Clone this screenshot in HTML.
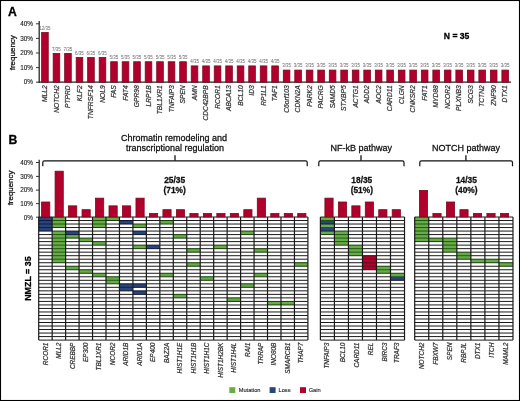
<!DOCTYPE html>
<html><head><meta charset="utf-8"><title>Figure</title>
<style>
html,body{margin:0;padding:0;background:#fff;}
body{width:520px;height:401px;overflow:hidden;}
svg{display:block;font-family:"Liberation Sans", sans-serif;will-change:transform;}
</style></head>
<body>
<svg width="520" height="401" viewBox="0 0 520 401">
<rect x="0" y="0" width="520" height="401" fill="#fff"/>
<text stroke="#000" stroke-width="0.28" x="8" y="15.5" font-size="12.2" font-weight="bold" fill="#000">A</text>
<text stroke="#000" stroke-width="0.28" x="8.4" y="143.9" font-size="12.2" font-weight="bold" fill="#000">B</text>
<line x1="39.2" y1="21" x2="39.2" y2="82.7" stroke="#222" stroke-width="1.25"/>
<line x1="38.6" y1="82.2" x2="511" y2="82.2" stroke="#222" stroke-width="1.2"/>
<line x1="36" y1="82.2" x2="39.2" y2="82.2" stroke="#333" stroke-width="1"/>
<text stroke="#222" stroke-width="0.12" x="33" y="84.4" font-size="6.4" text-anchor="end" fill="#222">0%</text>
<line x1="36" y1="67.6" x2="39.2" y2="67.6" stroke="#333" stroke-width="1"/>
<text stroke="#222" stroke-width="0.12" x="33" y="69.8" font-size="6.4" text-anchor="end" fill="#222">10%</text>
<line x1="36" y1="53" x2="39.2" y2="53" stroke="#333" stroke-width="1"/>
<text stroke="#222" stroke-width="0.12" x="33" y="55.2" font-size="6.4" text-anchor="end" fill="#222">20%</text>
<line x1="36" y1="38.4" x2="39.2" y2="38.4" stroke="#333" stroke-width="1"/>
<text stroke="#222" stroke-width="0.12" x="33" y="40.6" font-size="6.4" text-anchor="end" fill="#222">30%</text>
<line x1="36" y1="23.8" x2="39.2" y2="23.8" stroke="#333" stroke-width="1"/>
<text stroke="#222" stroke-width="0.12" x="33" y="26" font-size="6.4" text-anchor="end" fill="#222">40%</text>
<text stroke="#111" stroke-width="0.28" transform="translate(15.2,52.7) rotate(-90)" font-size="8.0" text-anchor="middle" fill="#111">frequency</text>
<rect x="41.65" y="32.54" width="6.6" height="49.66" fill="#b2002c" stroke="#7a0820" stroke-width="0.8"/>
<text x="44.95" y="29.94" font-size="4.5" text-anchor="middle" fill="#666">12/35</text>
<text stroke="#333" stroke-width="0.22" transform="translate(47.15,85.3) rotate(-90)" font-size="6.7" font-style="italic" text-anchor="end" fill="#333">MLL2</text>
<rect x="53.16" y="53.4" width="6.6" height="28.8" fill="#b2002c" stroke="#7a0820" stroke-width="0.8"/>
<text x="56.46" y="50.8" font-size="4.5" text-anchor="middle" fill="#666">7/35</text>
<text stroke="#333" stroke-width="0.22" transform="translate(58.66,85.3) rotate(-90)" font-size="6.7" font-style="italic" text-anchor="end" fill="#333">NOTCH2</text>
<rect x="64.66" y="53.4" width="6.6" height="28.8" fill="#b2002c" stroke="#7a0820" stroke-width="0.8"/>
<text x="67.96" y="50.8" font-size="4.5" text-anchor="middle" fill="#666">7/35</text>
<text stroke="#333" stroke-width="0.22" transform="translate(70.16,85.3) rotate(-90)" font-size="6.7" font-style="italic" text-anchor="end" fill="#333">PTPRD</text>
<rect x="76.17" y="57.57" width="6.6" height="24.63" fill="#b2002c" stroke="#7a0820" stroke-width="0.8"/>
<text x="79.47" y="54.97" font-size="4.5" text-anchor="middle" fill="#666">6/35</text>
<text stroke="#333" stroke-width="0.22" transform="translate(81.67,85.3) rotate(-90)" font-size="6.7" font-style="italic" text-anchor="end" fill="#333">KLF2</text>
<rect x="87.67" y="57.57" width="6.6" height="24.63" fill="#b2002c" stroke="#7a0820" stroke-width="0.8"/>
<text x="90.97" y="54.97" font-size="4.5" text-anchor="middle" fill="#666">6/35</text>
<text stroke="#333" stroke-width="0.22" transform="translate(93.17,85.3) rotate(-90)" font-size="6.7" font-style="italic" text-anchor="end" fill="#333">TNFRSF14</text>
<rect x="99.18" y="57.57" width="6.6" height="24.63" fill="#b2002c" stroke="#7a0820" stroke-width="0.8"/>
<text x="102.48" y="54.97" font-size="4.5" text-anchor="middle" fill="#666">6/35</text>
<text stroke="#333" stroke-width="0.22" transform="translate(104.68,85.3) rotate(-90)" font-size="6.7" font-style="italic" text-anchor="end" fill="#333">NOL9</text>
<rect x="110.69" y="61.74" width="6.6" height="20.46" fill="#b2002c" stroke="#7a0820" stroke-width="0.8"/>
<text x="113.99" y="59.14" font-size="4.5" text-anchor="middle" fill="#666">5/35</text>
<text stroke="#333" stroke-width="0.22" transform="translate(116.19,85.3) rotate(-90)" font-size="6.7" font-style="italic" text-anchor="end" fill="#333">FAS</text>
<rect x="122.19" y="61.74" width="6.6" height="20.46" fill="#b2002c" stroke="#7a0820" stroke-width="0.8"/>
<text x="125.49" y="59.14" font-size="4.5" text-anchor="middle" fill="#666">5/35</text>
<text stroke="#333" stroke-width="0.22" transform="translate(127.69,85.3) rotate(-90)" font-size="6.7" font-style="italic" text-anchor="end" fill="#333">FAT4</text>
<rect x="133.7" y="61.74" width="6.6" height="20.46" fill="#b2002c" stroke="#7a0820" stroke-width="0.8"/>
<text x="137" y="59.14" font-size="4.5" text-anchor="middle" fill="#666">5/35</text>
<text stroke="#333" stroke-width="0.22" transform="translate(139.2,85.3) rotate(-90)" font-size="6.7" font-style="italic" text-anchor="end" fill="#333">GPR98</text>
<rect x="145.2" y="61.74" width="6.6" height="20.46" fill="#b2002c" stroke="#7a0820" stroke-width="0.8"/>
<text x="148.5" y="59.14" font-size="4.5" text-anchor="middle" fill="#666">5/35</text>
<text stroke="#333" stroke-width="0.22" transform="translate(150.7,85.3) rotate(-90)" font-size="6.7" font-style="italic" text-anchor="end" fill="#333">LRP1B</text>
<rect x="156.71" y="61.74" width="6.6" height="20.46" fill="#b2002c" stroke="#7a0820" stroke-width="0.8"/>
<text x="160.01" y="59.14" font-size="4.5" text-anchor="middle" fill="#666">5/35</text>
<text stroke="#333" stroke-width="0.22" transform="translate(162.21,85.3) rotate(-90)" font-size="6.7" font-style="italic" text-anchor="end" fill="#333">TBL1XR1</text>
<rect x="168.22" y="61.74" width="6.6" height="20.46" fill="#b2002c" stroke="#7a0820" stroke-width="0.8"/>
<text x="171.52" y="59.14" font-size="4.5" text-anchor="middle" fill="#666">5/35</text>
<text stroke="#333" stroke-width="0.22" transform="translate(173.72,85.3) rotate(-90)" font-size="6.7" font-style="italic" text-anchor="end" fill="#333">TNFAIP3</text>
<rect x="179.72" y="61.74" width="6.6" height="20.46" fill="#b2002c" stroke="#7a0820" stroke-width="0.8"/>
<text x="183.02" y="59.14" font-size="4.5" text-anchor="middle" fill="#666">5/35</text>
<text stroke="#333" stroke-width="0.22" transform="translate(185.22,85.3) rotate(-90)" font-size="6.7" font-style="italic" text-anchor="end" fill="#333">SPEN</text>
<rect x="191.23" y="65.91" width="6.6" height="16.29" fill="#b2002c" stroke="#7a0820" stroke-width="0.8"/>
<text x="194.53" y="63.31" font-size="4.5" text-anchor="middle" fill="#666">4/35</text>
<text stroke="#333" stroke-width="0.22" transform="translate(196.73,85.3) rotate(-90)" font-size="6.7" font-style="italic" text-anchor="end" fill="#333">AMN</text>
<rect x="202.73" y="65.91" width="6.6" height="16.29" fill="#b2002c" stroke="#7a0820" stroke-width="0.8"/>
<text x="206.03" y="63.31" font-size="4.5" text-anchor="middle" fill="#666">4/35</text>
<text stroke="#333" stroke-width="0.22" transform="translate(208.23,85.3) rotate(-90)" font-size="6.7" font-style="italic" text-anchor="end" fill="#333">CDC42BPB</text>
<rect x="214.24" y="65.91" width="6.6" height="16.29" fill="#b2002c" stroke="#7a0820" stroke-width="0.8"/>
<text x="217.54" y="63.31" font-size="4.5" text-anchor="middle" fill="#666">4/35</text>
<text stroke="#333" stroke-width="0.22" transform="translate(219.74,85.3) rotate(-90)" font-size="6.7" font-style="italic" text-anchor="end" fill="#333">RCOR1</text>
<rect x="225.75" y="65.91" width="6.6" height="16.29" fill="#b2002c" stroke="#7a0820" stroke-width="0.8"/>
<text x="229.05" y="63.31" font-size="4.5" text-anchor="middle" fill="#666">4/35</text>
<text stroke="#333" stroke-width="0.22" transform="translate(231.25,85.3) rotate(-90)" font-size="6.7" font-style="italic" text-anchor="end" fill="#333">ABCA13</text>
<rect x="237.25" y="65.91" width="6.6" height="16.29" fill="#b2002c" stroke="#7a0820" stroke-width="0.8"/>
<text x="240.55" y="63.31" font-size="4.5" text-anchor="middle" fill="#666">4/35</text>
<text stroke="#333" stroke-width="0.22" transform="translate(242.75,85.3) rotate(-90)" font-size="6.7" font-style="italic" text-anchor="end" fill="#333">BCL10</text>
<rect x="248.76" y="65.91" width="6.6" height="16.29" fill="#b2002c" stroke="#7a0820" stroke-width="0.8"/>
<text x="252.06" y="63.31" font-size="4.5" text-anchor="middle" fill="#666">4/35</text>
<text stroke="#333" stroke-width="0.22" transform="translate(254.26,85.3) rotate(-90)" font-size="6.7" font-style="italic" text-anchor="end" fill="#333">ID3</text>
<rect x="260.26" y="65.91" width="6.6" height="16.29" fill="#b2002c" stroke="#7a0820" stroke-width="0.8"/>
<text x="263.56" y="63.31" font-size="4.5" text-anchor="middle" fill="#666">4/35</text>
<text stroke="#333" stroke-width="0.22" transform="translate(265.76,85.3) rotate(-90)" font-size="6.7" font-style="italic" text-anchor="end" fill="#333">RP1L1</text>
<rect x="271.77" y="65.91" width="6.6" height="16.29" fill="#b2002c" stroke="#7a0820" stroke-width="0.8"/>
<text x="275.07" y="63.31" font-size="4.5" text-anchor="middle" fill="#666">4/35</text>
<text stroke="#333" stroke-width="0.22" transform="translate(277.27,85.3) rotate(-90)" font-size="6.7" font-style="italic" text-anchor="end" fill="#333">TAF1</text>
<rect x="283.28" y="70.09" width="6.6" height="12.11" fill="#b2002c" stroke="#7a0820" stroke-width="0.8"/>
<text x="286.58" y="67.49" font-size="4.5" text-anchor="middle" fill="#666">3/35</text>
<text stroke="#333" stroke-width="0.22" transform="translate(288.78,85.3) rotate(-90)" font-size="6.7" font-style="italic" text-anchor="end" fill="#333">C6orf103</text>
<rect x="294.78" y="70.09" width="6.6" height="12.11" fill="#b2002c" stroke="#7a0820" stroke-width="0.8"/>
<text x="298.08" y="67.49" font-size="4.5" text-anchor="middle" fill="#666">3/35</text>
<text stroke="#333" stroke-width="0.22" transform="translate(300.28,85.3) rotate(-90)" font-size="6.7" font-style="italic" text-anchor="end" fill="#333">CDKN2A</text>
<rect x="306.29" y="70.09" width="6.6" height="12.11" fill="#b2002c" stroke="#7a0820" stroke-width="0.8"/>
<text x="309.59" y="67.49" font-size="4.5" text-anchor="middle" fill="#666">3/35</text>
<text stroke="#333" stroke-width="0.22" transform="translate(311.79,85.3) rotate(-90)" font-size="6.7" font-style="italic" text-anchor="end" fill="#333">PARK2</text>
<rect x="317.79" y="70.09" width="6.6" height="12.11" fill="#b2002c" stroke="#7a0820" stroke-width="0.8"/>
<text x="321.09" y="67.49" font-size="4.5" text-anchor="middle" fill="#666">3/35</text>
<text stroke="#333" stroke-width="0.22" transform="translate(323.29,85.3) rotate(-90)" font-size="6.7" font-style="italic" text-anchor="end" fill="#333">PACRG</text>
<rect x="329.3" y="70.09" width="6.6" height="12.11" fill="#b2002c" stroke="#7a0820" stroke-width="0.8"/>
<text x="332.6" y="67.49" font-size="4.5" text-anchor="middle" fill="#666">3/35</text>
<text stroke="#333" stroke-width="0.22" transform="translate(334.8,85.3) rotate(-90)" font-size="6.7" font-style="italic" text-anchor="end" fill="#333">SAMD5</text>
<rect x="340.81" y="70.09" width="6.6" height="12.11" fill="#b2002c" stroke="#7a0820" stroke-width="0.8"/>
<text x="344.11" y="67.49" font-size="4.5" text-anchor="middle" fill="#666">3/35</text>
<text stroke="#333" stroke-width="0.22" transform="translate(346.31,85.3) rotate(-90)" font-size="6.7" font-style="italic" text-anchor="end" fill="#333">STXBP5</text>
<rect x="352.31" y="70.09" width="6.6" height="12.11" fill="#b2002c" stroke="#7a0820" stroke-width="0.8"/>
<text x="355.61" y="67.49" font-size="4.5" text-anchor="middle" fill="#666">3/35</text>
<text stroke="#333" stroke-width="0.22" transform="translate(357.81,85.3) rotate(-90)" font-size="6.7" font-style="italic" text-anchor="end" fill="#333">ACTG1</text>
<rect x="363.82" y="70.09" width="6.6" height="12.11" fill="#b2002c" stroke="#7a0820" stroke-width="0.8"/>
<text x="367.12" y="67.49" font-size="4.5" text-anchor="middle" fill="#666">3/35</text>
<text stroke="#333" stroke-width="0.22" transform="translate(369.32,85.3) rotate(-90)" font-size="6.7" font-style="italic" text-anchor="end" fill="#333">ADD2</text>
<rect x="375.32" y="70.09" width="6.6" height="12.11" fill="#b2002c" stroke="#7a0820" stroke-width="0.8"/>
<text x="378.62" y="67.49" font-size="4.5" text-anchor="middle" fill="#666">3/35</text>
<text stroke="#333" stroke-width="0.22" transform="translate(380.82,85.3) rotate(-90)" font-size="6.7" font-style="italic" text-anchor="end" fill="#333">AOC2</text>
<rect x="386.83" y="70.09" width="6.6" height="12.11" fill="#b2002c" stroke="#7a0820" stroke-width="0.8"/>
<text x="390.13" y="67.49" font-size="4.5" text-anchor="middle" fill="#666">3/35</text>
<text stroke="#333" stroke-width="0.22" transform="translate(392.33,85.3) rotate(-90)" font-size="6.7" font-style="italic" text-anchor="end" fill="#333">CARD11</text>
<rect x="398.34" y="70.09" width="6.6" height="12.11" fill="#b2002c" stroke="#7a0820" stroke-width="0.8"/>
<text x="401.64" y="67.49" font-size="4.5" text-anchor="middle" fill="#666">3/35</text>
<text stroke="#333" stroke-width="0.22" transform="translate(403.84,85.3) rotate(-90)" font-size="6.7" font-style="italic" text-anchor="end" fill="#333">CLGN</text>
<rect x="409.84" y="70.09" width="6.6" height="12.11" fill="#b2002c" stroke="#7a0820" stroke-width="0.8"/>
<text x="413.14" y="67.49" font-size="4.5" text-anchor="middle" fill="#666">3/35</text>
<text stroke="#333" stroke-width="0.22" transform="translate(415.34,85.3) rotate(-90)" font-size="6.7" font-style="italic" text-anchor="end" fill="#333">CNKSR2</text>
<rect x="421.35" y="70.09" width="6.6" height="12.11" fill="#b2002c" stroke="#7a0820" stroke-width="0.8"/>
<text x="424.65" y="67.49" font-size="4.5" text-anchor="middle" fill="#666">3/35</text>
<text stroke="#333" stroke-width="0.22" transform="translate(426.85,85.3) rotate(-90)" font-size="6.7" font-style="italic" text-anchor="end" fill="#333">FAT1</text>
<rect x="432.85" y="70.09" width="6.6" height="12.11" fill="#b2002c" stroke="#7a0820" stroke-width="0.8"/>
<text x="436.15" y="67.49" font-size="4.5" text-anchor="middle" fill="#666">3/35</text>
<text stroke="#333" stroke-width="0.22" transform="translate(438.35,85.3) rotate(-90)" font-size="6.7" font-style="italic" text-anchor="end" fill="#333">MYD88</text>
<rect x="444.36" y="70.09" width="6.6" height="12.11" fill="#b2002c" stroke="#7a0820" stroke-width="0.8"/>
<text x="447.66" y="67.49" font-size="4.5" text-anchor="middle" fill="#666">3/35</text>
<text stroke="#333" stroke-width="0.22" transform="translate(449.86,85.3) rotate(-90)" font-size="6.7" font-style="italic" text-anchor="end" fill="#333">NCOR2</text>
<rect x="455.87" y="70.09" width="6.6" height="12.11" fill="#b2002c" stroke="#7a0820" stroke-width="0.8"/>
<text x="459.17" y="67.49" font-size="4.5" text-anchor="middle" fill="#666">3/35</text>
<text stroke="#333" stroke-width="0.22" transform="translate(461.37,85.3) rotate(-90)" font-size="6.7" font-style="italic" text-anchor="end" fill="#333">PLXNB3</text>
<rect x="467.37" y="70.09" width="6.6" height="12.11" fill="#b2002c" stroke="#7a0820" stroke-width="0.8"/>
<text x="470.67" y="67.49" font-size="4.5" text-anchor="middle" fill="#666">3/35</text>
<text stroke="#333" stroke-width="0.22" transform="translate(472.87,85.3) rotate(-90)" font-size="6.7" font-style="italic" text-anchor="end" fill="#333">SCG3</text>
<rect x="478.88" y="70.09" width="6.6" height="12.11" fill="#b2002c" stroke="#7a0820" stroke-width="0.8"/>
<text x="482.18" y="67.49" font-size="4.5" text-anchor="middle" fill="#666">3/35</text>
<text stroke="#333" stroke-width="0.22" transform="translate(484.38,85.3) rotate(-90)" font-size="6.7" font-style="italic" text-anchor="end" fill="#333">TCTN2</text>
<rect x="490.38" y="70.09" width="6.6" height="12.11" fill="#b2002c" stroke="#7a0820" stroke-width="0.8"/>
<text x="493.68" y="67.49" font-size="4.5" text-anchor="middle" fill="#666">3/35</text>
<text stroke="#333" stroke-width="0.22" transform="translate(495.88,85.3) rotate(-90)" font-size="6.7" font-style="italic" text-anchor="end" fill="#333">ZNF90</text>
<rect x="501.89" y="70.09" width="6.6" height="12.11" fill="#b2002c" stroke="#7a0820" stroke-width="0.8"/>
<text x="505.19" y="67.49" font-size="4.5" text-anchor="middle" fill="#666">3/35</text>
<text stroke="#333" stroke-width="0.22" transform="translate(507.39,85.3) rotate(-90)" font-size="6.7" font-style="italic" text-anchor="end" fill="#333">DTX1</text>
<text stroke="#000" stroke-width="0.28" x="443.8" y="38.5" font-size="8.6" font-weight="bold" fill="#000">N = 35</text>
<line x1="39.2" y1="159.8" x2="39.2" y2="217.0" stroke="#222" stroke-width="1.25"/>
<line x1="36" y1="217.2" x2="39.2" y2="217.2" stroke="#333" stroke-width="1"/>
<text stroke="#222" stroke-width="0.12" x="33" y="219.5" font-size="6.4" text-anchor="end" fill="#222">0%</text>
<line x1="36" y1="203.6" x2="39.2" y2="203.6" stroke="#333" stroke-width="1"/>
<text stroke="#222" stroke-width="0.12" x="33" y="205.9" font-size="6.4" text-anchor="end" fill="#222">10%</text>
<line x1="36" y1="190.1" x2="39.2" y2="190.1" stroke="#333" stroke-width="1"/>
<text stroke="#222" stroke-width="0.12" x="33" y="192.4" font-size="6.4" text-anchor="end" fill="#222">20%</text>
<line x1="36" y1="176.4" x2="39.2" y2="176.4" stroke="#333" stroke-width="1"/>
<text stroke="#222" stroke-width="0.12" x="33" y="178.7" font-size="6.4" text-anchor="end" fill="#222">30%</text>
<line x1="36" y1="162.5" x2="39.2" y2="162.5" stroke="#333" stroke-width="1"/>
<text stroke="#222" stroke-width="0.12" x="33" y="164.8" font-size="6.4" text-anchor="end" fill="#222">40%</text>
<text stroke="#111" stroke-width="0.28" transform="translate(13.1,188) rotate(-90)" font-size="7.9" text-anchor="middle" fill="#111">frequency</text>
<text stroke="#000" stroke-width="0.28" transform="translate(31.2,278.6) rotate(-90)" font-size="8.9" font-weight="bold" text-anchor="middle" fill="#000">NMZL = 35</text>
<rect x="38.7" y="217" width="269.2" height="123.1" fill="#fff"/>
<rect x="38.7" y="217" width="13.46" height="3.52" fill="#2a457c"/>
<rect x="38.7" y="220.52" width="13.46" height="3.52" fill="#2a457c"/>
<rect x="38.7" y="224.03" width="13.46" height="3.52" fill="#2a457c"/>
<rect x="38.7" y="227.55" width="13.46" height="3.52" fill="#2a457c"/>
<rect x="52.16" y="217" width="13.46" height="3.52" fill="#68ac47"/>
<rect x="52.16" y="220.52" width="13.46" height="3.52" fill="#68ac47"/>
<rect x="52.16" y="224.03" width="13.46" height="3.52" fill="#68ac47"/>
<rect x="52.16" y="231.07" width="13.46" height="3.52" fill="#68ac47"/>
<rect x="52.16" y="234.59" width="13.46" height="3.52" fill="#68ac47"/>
<rect x="52.16" y="238.1" width="13.46" height="3.52" fill="#68ac47"/>
<rect x="52.16" y="241.62" width="13.46" height="3.52" fill="#68ac47"/>
<rect x="52.16" y="245.14" width="13.46" height="3.52" fill="#68ac47"/>
<rect x="52.16" y="248.65" width="13.46" height="3.52" fill="#68ac47"/>
<rect x="52.16" y="252.17" width="13.46" height="3.52" fill="#68ac47"/>
<rect x="52.16" y="255.69" width="13.46" height="3.52" fill="#68ac47"/>
<rect x="52.16" y="259.2" width="13.46" height="3.52" fill="#68ac47"/>
<rect x="65.62" y="231.07" width="13.46" height="3.52" fill="#2a457c"/>
<rect x="65.62" y="234.59" width="13.46" height="3.52" fill="#68ac47"/>
<rect x="65.62" y="266.24" width="13.46" height="3.52" fill="#68ac47"/>
<rect x="79.08" y="238.1" width="13.46" height="3.52" fill="#68ac47"/>
<rect x="79.08" y="269.75" width="13.46" height="3.52" fill="#68ac47"/>
<rect x="92.54" y="217" width="13.46" height="3.52" fill="#68ac47"/>
<rect x="92.54" y="220.52" width="13.46" height="3.52" fill="#68ac47"/>
<rect x="92.54" y="224.03" width="13.46" height="3.52" fill="#68ac47"/>
<rect x="92.54" y="241.62" width="13.46" height="3.52" fill="#68ac47"/>
<rect x="92.54" y="273.27" width="13.46" height="3.52" fill="#68ac47"/>
<rect x="106" y="217" width="13.46" height="3.52" fill="#68ac47"/>
<rect x="106" y="276.79" width="13.46" height="3.52" fill="#68ac47"/>
<rect x="106" y="280.31" width="13.46" height="3.52" fill="#68ac47"/>
<rect x="119.46" y="220.52" width="13.46" height="3.52" fill="#2a457c"/>
<rect x="119.46" y="283.82" width="13.46" height="3.52" fill="#2a457c"/>
<rect x="119.46" y="287.34" width="13.46" height="3.52" fill="#2a457c"/>
<rect x="132.92" y="224.03" width="13.46" height="3.52" fill="#68ac47"/>
<rect x="132.92" y="231.07" width="13.46" height="3.52" fill="#2a457c"/>
<rect x="132.92" y="245.14" width="13.46" height="3.52" fill="#68ac47"/>
<rect x="132.92" y="283.82" width="13.46" height="3.52" fill="#2a457c"/>
<rect x="132.92" y="290.86" width="13.46" height="3.52" fill="#2a457c"/>
<rect x="146.38" y="245.14" width="13.46" height="3.52" fill="#2a457c"/>
<rect x="159.84" y="220.52" width="13.46" height="3.52" fill="#68ac47"/>
<rect x="159.84" y="273.27" width="13.46" height="3.52" fill="#68ac47"/>
<rect x="173.3" y="234.59" width="13.46" height="3.52" fill="#68ac47"/>
<rect x="173.3" y="294.37" width="13.46" height="3.52" fill="#68ac47"/>
<rect x="186.76" y="248.65" width="13.46" height="3.52" fill="#68ac47"/>
<rect x="186.76" y="262.72" width="13.46" height="3.52" fill="#68ac47"/>
<rect x="200.22" y="276.79" width="13.46" height="3.52" fill="#68ac47"/>
<rect x="213.68" y="245.14" width="13.46" height="3.52" fill="#68ac47"/>
<rect x="227.14" y="297.89" width="13.46" height="3.52" fill="#68ac47"/>
<rect x="240.6" y="231.07" width="13.46" height="3.52" fill="#68ac47"/>
<rect x="240.6" y="283.82" width="13.46" height="3.52" fill="#68ac47"/>
<rect x="254.06" y="248.65" width="13.46" height="3.52" fill="#68ac47"/>
<rect x="254.06" y="273.27" width="13.46" height="3.52" fill="#68ac47"/>
<rect x="267.52" y="301.41" width="13.46" height="3.52" fill="#68ac47"/>
<rect x="280.98" y="301.41" width="13.46" height="3.52" fill="#68ac47"/>
<rect x="294.44" y="262.72" width="13.46" height="3.52" fill="#68ac47"/>
<line x1="38.7" y1="217" x2="52.16" y2="217" stroke="#0b1430" stroke-width="1.0"/>
<line x1="52.16" y1="217" x2="65.62" y2="217" stroke="#133a08" stroke-width="1.0"/>
<line x1="65.62" y1="217" x2="92.54" y2="217" stroke="#1a1a1a" stroke-width="1.0"/>
<line x1="92.54" y1="217" x2="119.46" y2="217" stroke="#133a08" stroke-width="1.0"/>
<line x1="119.46" y1="217" x2="307.9" y2="217" stroke="#1a1a1a" stroke-width="1.0"/>
<line x1="38.7" y1="220.52" x2="52.16" y2="220.52" stroke="#0f1b3e" stroke-width="1.0"/>
<line x1="52.16" y1="220.52" x2="65.62" y2="220.52" stroke="#1c560c" stroke-width="1.0"/>
<line x1="65.62" y1="220.52" x2="92.54" y2="220.52" stroke="#1a1a1a" stroke-width="1.0"/>
<line x1="92.54" y1="220.52" x2="106" y2="220.52" stroke="#1c560c" stroke-width="1.0"/>
<line x1="106" y1="220.52" x2="119.46" y2="220.52" stroke="#133a08" stroke-width="1.0"/>
<line x1="119.46" y1="220.52" x2="132.92" y2="220.52" stroke="#0b1430" stroke-width="1.0"/>
<line x1="132.92" y1="220.52" x2="159.84" y2="220.52" stroke="#1a1a1a" stroke-width="1.0"/>
<line x1="159.84" y1="220.52" x2="173.3" y2="220.52" stroke="#133a08" stroke-width="1.0"/>
<line x1="173.3" y1="220.52" x2="307.9" y2="220.52" stroke="#1a1a1a" stroke-width="1.0"/>
<line x1="38.7" y1="224.03" x2="52.16" y2="224.03" stroke="#0f1b3e" stroke-width="1.0"/>
<line x1="52.16" y1="224.03" x2="65.62" y2="224.03" stroke="#1c560c" stroke-width="1.0"/>
<line x1="65.62" y1="224.03" x2="92.54" y2="224.03" stroke="#1a1a1a" stroke-width="1.0"/>
<line x1="92.54" y1="224.03" x2="106" y2="224.03" stroke="#1c560c" stroke-width="1.0"/>
<line x1="106" y1="224.03" x2="119.46" y2="224.03" stroke="#1a1a1a" stroke-width="1.0"/>
<line x1="119.46" y1="224.03" x2="132.92" y2="224.03" stroke="#0b1430" stroke-width="1.0"/>
<line x1="132.92" y1="224.03" x2="146.38" y2="224.03" stroke="#133a08" stroke-width="1.0"/>
<line x1="146.38" y1="224.03" x2="159.84" y2="224.03" stroke="#1a1a1a" stroke-width="1.0"/>
<line x1="159.84" y1="224.03" x2="173.3" y2="224.03" stroke="#133a08" stroke-width="1.0"/>
<line x1="173.3" y1="224.03" x2="307.9" y2="224.03" stroke="#1a1a1a" stroke-width="1.0"/>
<line x1="38.7" y1="227.55" x2="52.16" y2="227.55" stroke="#0f1b3e" stroke-width="1.0"/>
<line x1="52.16" y1="227.55" x2="65.62" y2="227.55" stroke="#133a08" stroke-width="1.0"/>
<line x1="65.62" y1="227.55" x2="92.54" y2="227.55" stroke="#1a1a1a" stroke-width="1.0"/>
<line x1="92.54" y1="227.55" x2="106" y2="227.55" stroke="#133a08" stroke-width="1.0"/>
<line x1="106" y1="227.55" x2="132.92" y2="227.55" stroke="#1a1a1a" stroke-width="1.0"/>
<line x1="132.92" y1="227.55" x2="146.38" y2="227.55" stroke="#133a08" stroke-width="1.0"/>
<line x1="146.38" y1="227.55" x2="307.9" y2="227.55" stroke="#1a1a1a" stroke-width="1.0"/>
<line x1="38.7" y1="231.07" x2="52.16" y2="231.07" stroke="#0b1430" stroke-width="1.0"/>
<line x1="52.16" y1="231.07" x2="65.62" y2="231.07" stroke="#133a08" stroke-width="1.0"/>
<line x1="65.62" y1="231.07" x2="79.08" y2="231.07" stroke="#0b1430" stroke-width="1.0"/>
<line x1="79.08" y1="231.07" x2="132.92" y2="231.07" stroke="#1a1a1a" stroke-width="1.0"/>
<line x1="132.92" y1="231.07" x2="146.38" y2="231.07" stroke="#0b1430" stroke-width="1.0"/>
<line x1="146.38" y1="231.07" x2="240.6" y2="231.07" stroke="#1a1a1a" stroke-width="1.0"/>
<line x1="240.6" y1="231.07" x2="254.06" y2="231.07" stroke="#133a08" stroke-width="1.0"/>
<line x1="254.06" y1="231.07" x2="307.9" y2="231.07" stroke="#1a1a1a" stroke-width="1.0"/>
<line x1="38.7" y1="234.59" x2="52.16" y2="234.59" stroke="#1a1a1a" stroke-width="1.0"/>
<line x1="52.16" y1="234.59" x2="65.62" y2="234.59" stroke="#1c560c" stroke-width="1.0"/>
<line x1="65.62" y1="234.59" x2="79.08" y2="234.59" stroke="#0f1b3e" stroke-width="1.0"/>
<line x1="79.08" y1="234.59" x2="132.92" y2="234.59" stroke="#1a1a1a" stroke-width="1.0"/>
<line x1="132.92" y1="234.59" x2="146.38" y2="234.59" stroke="#0b1430" stroke-width="1.0"/>
<line x1="146.38" y1="234.59" x2="173.3" y2="234.59" stroke="#1a1a1a" stroke-width="1.0"/>
<line x1="173.3" y1="234.59" x2="186.76" y2="234.59" stroke="#133a08" stroke-width="1.0"/>
<line x1="186.76" y1="234.59" x2="240.6" y2="234.59" stroke="#1a1a1a" stroke-width="1.0"/>
<line x1="240.6" y1="234.59" x2="254.06" y2="234.59" stroke="#133a08" stroke-width="1.0"/>
<line x1="254.06" y1="234.59" x2="307.9" y2="234.59" stroke="#1a1a1a" stroke-width="1.0"/>
<line x1="38.7" y1="238.1" x2="52.16" y2="238.1" stroke="#1a1a1a" stroke-width="1.0"/>
<line x1="52.16" y1="238.1" x2="65.62" y2="238.1" stroke="#1c560c" stroke-width="1.0"/>
<line x1="65.62" y1="238.1" x2="92.54" y2="238.1" stroke="#133a08" stroke-width="1.0"/>
<line x1="92.54" y1="238.1" x2="173.3" y2="238.1" stroke="#1a1a1a" stroke-width="1.0"/>
<line x1="173.3" y1="238.1" x2="186.76" y2="238.1" stroke="#133a08" stroke-width="1.0"/>
<line x1="186.76" y1="238.1" x2="307.9" y2="238.1" stroke="#1a1a1a" stroke-width="1.0"/>
<line x1="38.7" y1="241.62" x2="52.16" y2="241.62" stroke="#1a1a1a" stroke-width="1.0"/>
<line x1="52.16" y1="241.62" x2="65.62" y2="241.62" stroke="#1c560c" stroke-width="1.0"/>
<line x1="65.62" y1="241.62" x2="79.08" y2="241.62" stroke="#1a1a1a" stroke-width="1.0"/>
<line x1="79.08" y1="241.62" x2="106" y2="241.62" stroke="#133a08" stroke-width="1.0"/>
<line x1="106" y1="241.62" x2="307.9" y2="241.62" stroke="#1a1a1a" stroke-width="1.0"/>
<line x1="38.7" y1="245.14" x2="52.16" y2="245.14" stroke="#1a1a1a" stroke-width="1.0"/>
<line x1="52.16" y1="245.14" x2="65.62" y2="245.14" stroke="#1c560c" stroke-width="1.0"/>
<line x1="65.62" y1="245.14" x2="92.54" y2="245.14" stroke="#1a1a1a" stroke-width="1.0"/>
<line x1="92.54" y1="245.14" x2="106" y2="245.14" stroke="#133a08" stroke-width="1.0"/>
<line x1="106" y1="245.14" x2="132.92" y2="245.14" stroke="#1a1a1a" stroke-width="1.0"/>
<line x1="132.92" y1="245.14" x2="146.38" y2="245.14" stroke="#133a08" stroke-width="1.0"/>
<line x1="146.38" y1="245.14" x2="159.84" y2="245.14" stroke="#0b1430" stroke-width="1.0"/>
<line x1="159.84" y1="245.14" x2="213.68" y2="245.14" stroke="#1a1a1a" stroke-width="1.0"/>
<line x1="213.68" y1="245.14" x2="227.14" y2="245.14" stroke="#133a08" stroke-width="1.0"/>
<line x1="227.14" y1="245.14" x2="307.9" y2="245.14" stroke="#1a1a1a" stroke-width="1.0"/>
<line x1="38.7" y1="248.65" x2="52.16" y2="248.65" stroke="#1a1a1a" stroke-width="1.0"/>
<line x1="52.16" y1="248.65" x2="65.62" y2="248.65" stroke="#1c560c" stroke-width="1.0"/>
<line x1="65.62" y1="248.65" x2="132.92" y2="248.65" stroke="#1a1a1a" stroke-width="1.0"/>
<line x1="132.92" y1="248.65" x2="146.38" y2="248.65" stroke="#133a08" stroke-width="1.0"/>
<line x1="146.38" y1="248.65" x2="159.84" y2="248.65" stroke="#0b1430" stroke-width="1.0"/>
<line x1="159.84" y1="248.65" x2="186.76" y2="248.65" stroke="#1a1a1a" stroke-width="1.0"/>
<line x1="186.76" y1="248.65" x2="200.22" y2="248.65" stroke="#133a08" stroke-width="1.0"/>
<line x1="200.22" y1="248.65" x2="213.68" y2="248.65" stroke="#1a1a1a" stroke-width="1.0"/>
<line x1="213.68" y1="248.65" x2="227.14" y2="248.65" stroke="#133a08" stroke-width="1.0"/>
<line x1="227.14" y1="248.65" x2="254.06" y2="248.65" stroke="#1a1a1a" stroke-width="1.0"/>
<line x1="254.06" y1="248.65" x2="267.52" y2="248.65" stroke="#133a08" stroke-width="1.0"/>
<line x1="267.52" y1="248.65" x2="307.9" y2="248.65" stroke="#1a1a1a" stroke-width="1.0"/>
<line x1="38.7" y1="252.17" x2="52.16" y2="252.17" stroke="#1a1a1a" stroke-width="1.0"/>
<line x1="52.16" y1="252.17" x2="65.62" y2="252.17" stroke="#1c560c" stroke-width="1.0"/>
<line x1="65.62" y1="252.17" x2="186.76" y2="252.17" stroke="#1a1a1a" stroke-width="1.0"/>
<line x1="186.76" y1="252.17" x2="200.22" y2="252.17" stroke="#133a08" stroke-width="1.0"/>
<line x1="200.22" y1="252.17" x2="254.06" y2="252.17" stroke="#1a1a1a" stroke-width="1.0"/>
<line x1="254.06" y1="252.17" x2="267.52" y2="252.17" stroke="#133a08" stroke-width="1.0"/>
<line x1="267.52" y1="252.17" x2="307.9" y2="252.17" stroke="#1a1a1a" stroke-width="1.0"/>
<line x1="38.7" y1="255.69" x2="52.16" y2="255.69" stroke="#1a1a1a" stroke-width="1.0"/>
<line x1="52.16" y1="255.69" x2="65.62" y2="255.69" stroke="#1c560c" stroke-width="1.0"/>
<line x1="65.62" y1="255.69" x2="307.9" y2="255.69" stroke="#1a1a1a" stroke-width="1.0"/>
<line x1="38.7" y1="259.2" x2="52.16" y2="259.2" stroke="#1a1a1a" stroke-width="1.0"/>
<line x1="52.16" y1="259.2" x2="65.62" y2="259.2" stroke="#1c560c" stroke-width="1.0"/>
<line x1="65.62" y1="259.2" x2="307.9" y2="259.2" stroke="#1a1a1a" stroke-width="1.0"/>
<line x1="38.7" y1="262.72" x2="52.16" y2="262.72" stroke="#1a1a1a" stroke-width="1.0"/>
<line x1="52.16" y1="262.72" x2="65.62" y2="262.72" stroke="#133a08" stroke-width="1.0"/>
<line x1="65.62" y1="262.72" x2="186.76" y2="262.72" stroke="#1a1a1a" stroke-width="1.0"/>
<line x1="186.76" y1="262.72" x2="200.22" y2="262.72" stroke="#133a08" stroke-width="1.0"/>
<line x1="200.22" y1="262.72" x2="294.44" y2="262.72" stroke="#1a1a1a" stroke-width="1.0"/>
<line x1="294.44" y1="262.72" x2="307.9" y2="262.72" stroke="#133a08" stroke-width="1.0"/>
<line x1="38.7" y1="266.24" x2="65.62" y2="266.24" stroke="#1a1a1a" stroke-width="1.0"/>
<line x1="65.62" y1="266.24" x2="79.08" y2="266.24" stroke="#133a08" stroke-width="1.0"/>
<line x1="79.08" y1="266.24" x2="186.76" y2="266.24" stroke="#1a1a1a" stroke-width="1.0"/>
<line x1="186.76" y1="266.24" x2="200.22" y2="266.24" stroke="#133a08" stroke-width="1.0"/>
<line x1="200.22" y1="266.24" x2="294.44" y2="266.24" stroke="#1a1a1a" stroke-width="1.0"/>
<line x1="294.44" y1="266.24" x2="307.9" y2="266.24" stroke="#133a08" stroke-width="1.0"/>
<line x1="38.7" y1="269.75" x2="65.62" y2="269.75" stroke="#1a1a1a" stroke-width="1.0"/>
<line x1="65.62" y1="269.75" x2="92.54" y2="269.75" stroke="#133a08" stroke-width="1.0"/>
<line x1="92.54" y1="269.75" x2="307.9" y2="269.75" stroke="#1a1a1a" stroke-width="1.0"/>
<line x1="38.7" y1="273.27" x2="79.08" y2="273.27" stroke="#1a1a1a" stroke-width="1.0"/>
<line x1="79.08" y1="273.27" x2="106" y2="273.27" stroke="#133a08" stroke-width="1.0"/>
<line x1="106" y1="273.27" x2="159.84" y2="273.27" stroke="#1a1a1a" stroke-width="1.0"/>
<line x1="159.84" y1="273.27" x2="173.3" y2="273.27" stroke="#133a08" stroke-width="1.0"/>
<line x1="173.3" y1="273.27" x2="254.06" y2="273.27" stroke="#1a1a1a" stroke-width="1.0"/>
<line x1="254.06" y1="273.27" x2="267.52" y2="273.27" stroke="#133a08" stroke-width="1.0"/>
<line x1="267.52" y1="273.27" x2="307.9" y2="273.27" stroke="#1a1a1a" stroke-width="1.0"/>
<line x1="38.7" y1="276.79" x2="92.54" y2="276.79" stroke="#1a1a1a" stroke-width="1.0"/>
<line x1="92.54" y1="276.79" x2="119.46" y2="276.79" stroke="#133a08" stroke-width="1.0"/>
<line x1="119.46" y1="276.79" x2="159.84" y2="276.79" stroke="#1a1a1a" stroke-width="1.0"/>
<line x1="159.84" y1="276.79" x2="173.3" y2="276.79" stroke="#133a08" stroke-width="1.0"/>
<line x1="173.3" y1="276.79" x2="200.22" y2="276.79" stroke="#1a1a1a" stroke-width="1.0"/>
<line x1="200.22" y1="276.79" x2="213.68" y2="276.79" stroke="#133a08" stroke-width="1.0"/>
<line x1="213.68" y1="276.79" x2="254.06" y2="276.79" stroke="#1a1a1a" stroke-width="1.0"/>
<line x1="254.06" y1="276.79" x2="267.52" y2="276.79" stroke="#133a08" stroke-width="1.0"/>
<line x1="267.52" y1="276.79" x2="307.9" y2="276.79" stroke="#1a1a1a" stroke-width="1.0"/>
<line x1="38.7" y1="280.31" x2="106" y2="280.31" stroke="#1a1a1a" stroke-width="1.0"/>
<line x1="106" y1="280.31" x2="119.46" y2="280.31" stroke="#1c560c" stroke-width="1.0"/>
<line x1="119.46" y1="280.31" x2="200.22" y2="280.31" stroke="#1a1a1a" stroke-width="1.0"/>
<line x1="200.22" y1="280.31" x2="213.68" y2="280.31" stroke="#133a08" stroke-width="1.0"/>
<line x1="213.68" y1="280.31" x2="307.9" y2="280.31" stroke="#1a1a1a" stroke-width="1.0"/>
<line x1="38.7" y1="283.82" x2="106" y2="283.82" stroke="#1a1a1a" stroke-width="1.0"/>
<line x1="106" y1="283.82" x2="119.46" y2="283.82" stroke="#133a08" stroke-width="1.0"/>
<line x1="119.46" y1="283.82" x2="146.38" y2="283.82" stroke="#0b1430" stroke-width="1.0"/>
<line x1="146.38" y1="283.82" x2="240.6" y2="283.82" stroke="#1a1a1a" stroke-width="1.0"/>
<line x1="240.6" y1="283.82" x2="254.06" y2="283.82" stroke="#133a08" stroke-width="1.0"/>
<line x1="254.06" y1="283.82" x2="307.9" y2="283.82" stroke="#1a1a1a" stroke-width="1.0"/>
<line x1="38.7" y1="287.34" x2="119.46" y2="287.34" stroke="#1a1a1a" stroke-width="1.0"/>
<line x1="119.46" y1="287.34" x2="132.92" y2="287.34" stroke="#0f1b3e" stroke-width="1.0"/>
<line x1="132.92" y1="287.34" x2="146.38" y2="287.34" stroke="#0b1430" stroke-width="1.0"/>
<line x1="146.38" y1="287.34" x2="240.6" y2="287.34" stroke="#1a1a1a" stroke-width="1.0"/>
<line x1="240.6" y1="287.34" x2="254.06" y2="287.34" stroke="#133a08" stroke-width="1.0"/>
<line x1="254.06" y1="287.34" x2="307.9" y2="287.34" stroke="#1a1a1a" stroke-width="1.0"/>
<line x1="38.7" y1="290.86" x2="119.46" y2="290.86" stroke="#1a1a1a" stroke-width="1.0"/>
<line x1="119.46" y1="290.86" x2="146.38" y2="290.86" stroke="#0b1430" stroke-width="1.0"/>
<line x1="146.38" y1="290.86" x2="307.9" y2="290.86" stroke="#1a1a1a" stroke-width="1.0"/>
<line x1="38.7" y1="294.37" x2="132.92" y2="294.37" stroke="#1a1a1a" stroke-width="1.0"/>
<line x1="132.92" y1="294.37" x2="146.38" y2="294.37" stroke="#0b1430" stroke-width="1.0"/>
<line x1="146.38" y1="294.37" x2="173.3" y2="294.37" stroke="#1a1a1a" stroke-width="1.0"/>
<line x1="173.3" y1="294.37" x2="186.76" y2="294.37" stroke="#133a08" stroke-width="1.0"/>
<line x1="186.76" y1="294.37" x2="307.9" y2="294.37" stroke="#1a1a1a" stroke-width="1.0"/>
<line x1="38.7" y1="297.89" x2="173.3" y2="297.89" stroke="#1a1a1a" stroke-width="1.0"/>
<line x1="173.3" y1="297.89" x2="186.76" y2="297.89" stroke="#133a08" stroke-width="1.0"/>
<line x1="186.76" y1="297.89" x2="227.14" y2="297.89" stroke="#1a1a1a" stroke-width="1.0"/>
<line x1="227.14" y1="297.89" x2="240.6" y2="297.89" stroke="#133a08" stroke-width="1.0"/>
<line x1="240.6" y1="297.89" x2="307.9" y2="297.89" stroke="#1a1a1a" stroke-width="1.0"/>
<line x1="38.7" y1="301.41" x2="227.14" y2="301.41" stroke="#1a1a1a" stroke-width="1.0"/>
<line x1="227.14" y1="301.41" x2="240.6" y2="301.41" stroke="#133a08" stroke-width="1.0"/>
<line x1="240.6" y1="301.41" x2="267.52" y2="301.41" stroke="#1a1a1a" stroke-width="1.0"/>
<line x1="267.52" y1="301.41" x2="294.44" y2="301.41" stroke="#133a08" stroke-width="1.0"/>
<line x1="294.44" y1="301.41" x2="307.9" y2="301.41" stroke="#1a1a1a" stroke-width="1.0"/>
<line x1="38.7" y1="304.93" x2="267.52" y2="304.93" stroke="#1a1a1a" stroke-width="1.0"/>
<line x1="267.52" y1="304.93" x2="294.44" y2="304.93" stroke="#133a08" stroke-width="1.0"/>
<line x1="294.44" y1="304.93" x2="307.9" y2="304.93" stroke="#1a1a1a" stroke-width="1.0"/>
<line x1="38.7" y1="308.44" x2="307.9" y2="308.44" stroke="#1a1a1a" stroke-width="1.0"/>
<line x1="38.7" y1="311.96" x2="307.9" y2="311.96" stroke="#1a1a1a" stroke-width="1.0"/>
<line x1="38.7" y1="315.48" x2="307.9" y2="315.48" stroke="#1a1a1a" stroke-width="1.0"/>
<line x1="38.7" y1="318.99" x2="307.9" y2="318.99" stroke="#1a1a1a" stroke-width="1.0"/>
<line x1="38.7" y1="322.51" x2="307.9" y2="322.51" stroke="#1a1a1a" stroke-width="1.0"/>
<line x1="38.7" y1="326.03" x2="307.9" y2="326.03" stroke="#1a1a1a" stroke-width="1.0"/>
<line x1="38.7" y1="329.54" x2="307.9" y2="329.54" stroke="#1a1a1a" stroke-width="1.0"/>
<line x1="38.7" y1="333.06" x2="307.9" y2="333.06" stroke="#1a1a1a" stroke-width="1.0"/>
<line x1="38.7" y1="336.58" x2="307.9" y2="336.58" stroke="#1a1a1a" stroke-width="1.0"/>
<line x1="38.7" y1="340.1" x2="307.9" y2="340.1" stroke="#1a1a1a" stroke-width="1.0"/>
<line x1="38.7" y1="217" x2="38.7" y2="340.1" stroke="#1a1a1a" stroke-width="1.2"/>
<line x1="52.16" y1="217" x2="52.16" y2="340.1" stroke="#1a1a1a" stroke-width="1.2"/>
<line x1="65.62" y1="217" x2="65.62" y2="340.1" stroke="#1a1a1a" stroke-width="1.2"/>
<line x1="79.08" y1="217" x2="79.08" y2="340.1" stroke="#1a1a1a" stroke-width="1.2"/>
<line x1="92.54" y1="217" x2="92.54" y2="340.1" stroke="#1a1a1a" stroke-width="1.2"/>
<line x1="106" y1="217" x2="106" y2="340.1" stroke="#1a1a1a" stroke-width="1.2"/>
<line x1="119.46" y1="217" x2="119.46" y2="340.1" stroke="#1a1a1a" stroke-width="1.2"/>
<line x1="132.92" y1="217" x2="132.92" y2="340.1" stroke="#1a1a1a" stroke-width="1.2"/>
<line x1="146.38" y1="217" x2="146.38" y2="340.1" stroke="#1a1a1a" stroke-width="1.2"/>
<line x1="159.84" y1="217" x2="159.84" y2="340.1" stroke="#1a1a1a" stroke-width="1.2"/>
<line x1="173.3" y1="217" x2="173.3" y2="340.1" stroke="#1a1a1a" stroke-width="1.2"/>
<line x1="186.76" y1="217" x2="186.76" y2="340.1" stroke="#1a1a1a" stroke-width="1.2"/>
<line x1="200.22" y1="217" x2="200.22" y2="340.1" stroke="#1a1a1a" stroke-width="1.2"/>
<line x1="213.68" y1="217" x2="213.68" y2="340.1" stroke="#1a1a1a" stroke-width="1.2"/>
<line x1="227.14" y1="217" x2="227.14" y2="340.1" stroke="#1a1a1a" stroke-width="1.2"/>
<line x1="240.6" y1="217" x2="240.6" y2="340.1" stroke="#1a1a1a" stroke-width="1.2"/>
<line x1="254.06" y1="217" x2="254.06" y2="340.1" stroke="#1a1a1a" stroke-width="1.2"/>
<line x1="267.52" y1="217" x2="267.52" y2="340.1" stroke="#1a1a1a" stroke-width="1.2"/>
<line x1="280.98" y1="217" x2="280.98" y2="340.1" stroke="#1a1a1a" stroke-width="1.2"/>
<line x1="294.44" y1="217" x2="294.44" y2="340.1" stroke="#1a1a1a" stroke-width="1.2"/>
<line x1="307.9" y1="217" x2="307.9" y2="340.1" stroke="#1a1a1a" stroke-width="1.2"/>
<rect x="41.6" y="202" width="8.2" height="15" fill="#b2002c" stroke="#7a0820" stroke-width="0.8"/>
<rect x="55.08" y="171.2" width="8.2" height="45.8" fill="#b2002c" stroke="#7a0820" stroke-width="0.8"/>
<rect x="68.56" y="205.85" width="8.2" height="11.15" fill="#b2002c" stroke="#7a0820" stroke-width="0.8"/>
<rect x="82.04" y="209.7" width="8.2" height="7.3" fill="#b2002c" stroke="#7a0820" stroke-width="0.8"/>
<rect x="95.52" y="198.15" width="8.2" height="18.85" fill="#b2002c" stroke="#7a0820" stroke-width="0.8"/>
<rect x="109" y="205.85" width="8.2" height="11.15" fill="#b2002c" stroke="#7a0820" stroke-width="0.8"/>
<rect x="122.48" y="205.85" width="8.2" height="11.15" fill="#b2002c" stroke="#7a0820" stroke-width="0.8"/>
<rect x="135.96" y="198.15" width="8.2" height="18.85" fill="#b2002c" stroke="#7a0820" stroke-width="0.8"/>
<rect x="149.44" y="213.55" width="8.2" height="3.45" fill="#b2002c" stroke="#7a0820" stroke-width="0.8"/>
<rect x="162.92" y="209.7" width="8.2" height="7.3" fill="#b2002c" stroke="#7a0820" stroke-width="0.8"/>
<rect x="176.4" y="209.7" width="8.2" height="7.3" fill="#b2002c" stroke="#7a0820" stroke-width="0.8"/>
<rect x="189.88" y="213.55" width="8.2" height="3.45" fill="#b2002c" stroke="#7a0820" stroke-width="0.8"/>
<rect x="203.36" y="213.55" width="8.2" height="3.45" fill="#b2002c" stroke="#7a0820" stroke-width="0.8"/>
<rect x="216.84" y="213.55" width="8.2" height="3.45" fill="#b2002c" stroke="#7a0820" stroke-width="0.8"/>
<rect x="230.32" y="213.55" width="8.2" height="3.45" fill="#b2002c" stroke="#7a0820" stroke-width="0.8"/>
<rect x="243.8" y="209.7" width="8.2" height="7.3" fill="#b2002c" stroke="#7a0820" stroke-width="0.8"/>
<rect x="257.28" y="198.15" width="8.2" height="18.85" fill="#b2002c" stroke="#7a0820" stroke-width="0.8"/>
<rect x="270.76" y="213.55" width="8.2" height="3.45" fill="#b2002c" stroke="#7a0820" stroke-width="0.8"/>
<rect x="284.24" y="213.55" width="8.2" height="3.45" fill="#b2002c" stroke="#7a0820" stroke-width="0.8"/>
<rect x="297.72" y="213.55" width="8.2" height="3.45" fill="#b2002c" stroke="#7a0820" stroke-width="0.8"/>
<text stroke="#333" stroke-width="0.22" transform="translate(47.63,342.6) rotate(-90)" font-size="6.45" font-style="italic" text-anchor="end" fill="#333">RCOR1</text>
<text stroke="#333" stroke-width="0.22" transform="translate(61.09,342.6) rotate(-90)" font-size="6.45" font-style="italic" text-anchor="end" fill="#333">MLL2</text>
<text stroke="#333" stroke-width="0.22" transform="translate(74.55,342.6) rotate(-90)" font-size="6.45" font-style="italic" text-anchor="end" fill="#333">CREBBP</text>
<text stroke="#333" stroke-width="0.22" transform="translate(88.01,342.6) rotate(-90)" font-size="6.45" font-style="italic" text-anchor="end" fill="#333">EP300</text>
<text stroke="#333" stroke-width="0.22" transform="translate(101.47,342.6) rotate(-90)" font-size="6.45" font-style="italic" text-anchor="end" fill="#333">TBL1XR1</text>
<text stroke="#333" stroke-width="0.22" transform="translate(114.93,342.6) rotate(-90)" font-size="6.45" font-style="italic" text-anchor="end" fill="#333">NCOR2</text>
<text stroke="#333" stroke-width="0.22" transform="translate(128.39,342.6) rotate(-90)" font-size="6.45" font-style="italic" text-anchor="end" fill="#333">ARID1B</text>
<text stroke="#333" stroke-width="0.22" transform="translate(141.85,342.6) rotate(-90)" font-size="6.45" font-style="italic" text-anchor="end" fill="#333">ARID1A</text>
<text stroke="#333" stroke-width="0.22" transform="translate(155.31,342.6) rotate(-90)" font-size="6.45" font-style="italic" text-anchor="end" fill="#333">EP400</text>
<text stroke="#333" stroke-width="0.22" transform="translate(168.77,342.6) rotate(-90)" font-size="6.45" font-style="italic" text-anchor="end" fill="#333">BAZ2A</text>
<text stroke="#333" stroke-width="0.22" transform="translate(182.23,342.6) rotate(-90)" font-size="6.45" font-style="italic" text-anchor="end" fill="#333">HIST1H1E</text>
<text stroke="#333" stroke-width="0.22" transform="translate(195.69,342.6) rotate(-90)" font-size="6.45" font-style="italic" text-anchor="end" fill="#333">HIST1H1B</text>
<text stroke="#333" stroke-width="0.22" transform="translate(209.15,342.6) rotate(-90)" font-size="6.45" font-style="italic" text-anchor="end" fill="#333">HIST1H1C</text>
<text stroke="#333" stroke-width="0.22" transform="translate(222.61,342.6) rotate(-90)" font-size="6.45" font-style="italic" text-anchor="end" fill="#333">HIST1H2BK</text>
<text stroke="#333" stroke-width="0.22" transform="translate(236.07,342.6) rotate(-90)" font-size="6.45" font-style="italic" text-anchor="end" fill="#333">HIST1H4L</text>
<text stroke="#333" stroke-width="0.22" transform="translate(249.53,342.6) rotate(-90)" font-size="6.45" font-style="italic" text-anchor="end" fill="#333">RAI1</text>
<text stroke="#333" stroke-width="0.22" transform="translate(262.99,342.6) rotate(-90)" font-size="6.45" font-style="italic" text-anchor="end" fill="#333">TRRAP</text>
<text stroke="#333" stroke-width="0.22" transform="translate(276.45,342.6) rotate(-90)" font-size="6.45" font-style="italic" text-anchor="end" fill="#333">INO80B</text>
<text stroke="#333" stroke-width="0.22" transform="translate(289.91,342.6) rotate(-90)" font-size="6.45" font-style="italic" text-anchor="end" fill="#333">SMARCB1</text>
<text stroke="#333" stroke-width="0.22" transform="translate(303.37,342.6) rotate(-90)" font-size="6.45" font-style="italic" text-anchor="end" fill="#333">THAP7</text>
<rect x="320.4" y="217" width="84.12" height="123.1" fill="#fff"/>
<rect x="320.4" y="217" width="14.02" height="3.52" fill="#68ac47"/>
<rect x="320.4" y="220.52" width="14.02" height="3.52" fill="#2a457c"/>
<rect x="320.4" y="224.03" width="14.02" height="3.52" fill="#68ac47"/>
<rect x="320.4" y="227.55" width="14.02" height="3.52" fill="#2a457c"/>
<rect x="320.4" y="231.07" width="14.02" height="3.52" fill="#68ac47"/>
<rect x="334.42" y="231.07" width="14.02" height="3.52" fill="#68ac47"/>
<rect x="334.42" y="234.59" width="14.02" height="3.52" fill="#68ac47"/>
<rect x="334.42" y="238.1" width="14.02" height="3.52" fill="#68ac47"/>
<rect x="334.42" y="241.62" width="14.02" height="3.52" fill="#68ac47"/>
<rect x="348.44" y="245.14" width="14.02" height="3.52" fill="#68ac47"/>
<rect x="348.44" y="248.65" width="14.02" height="3.52" fill="#68ac47"/>
<rect x="348.44" y="252.17" width="14.02" height="3.52" fill="#68ac47"/>
<rect x="362.46" y="255.69" width="14.02" height="3.52" fill="#b0002c"/>
<rect x="362.46" y="259.2" width="14.02" height="3.52" fill="#b0002c"/>
<rect x="362.46" y="262.72" width="14.02" height="3.52" fill="#b0002c"/>
<rect x="362.46" y="266.24" width="14.02" height="3.52" fill="#b0002c"/>
<rect x="376.48" y="266.24" width="14.02" height="3.52" fill="#68ac47"/>
<rect x="376.48" y="269.75" width="14.02" height="3.52" fill="#68ac47"/>
<rect x="390.5" y="273.27" width="14.02" height="3.52" fill="#68ac47"/>
<rect x="390.5" y="276.79" width="14.02" height="3.52" fill="#2a457c"/>
<line x1="320.4" y1="217" x2="334.42" y2="217" stroke="#133a08" stroke-width="1.0"/>
<line x1="334.42" y1="217" x2="404.52" y2="217" stroke="#1a1a1a" stroke-width="1.0"/>
<line x1="320.4" y1="220.52" x2="334.42" y2="220.52" stroke="#1c560c" stroke-width="1.0"/>
<line x1="334.42" y1="220.52" x2="404.52" y2="220.52" stroke="#1a1a1a" stroke-width="1.0"/>
<line x1="320.4" y1="224.03" x2="334.42" y2="224.03" stroke="#0f1b3e" stroke-width="1.0"/>
<line x1="334.42" y1="224.03" x2="404.52" y2="224.03" stroke="#1a1a1a" stroke-width="1.0"/>
<line x1="320.4" y1="227.55" x2="334.42" y2="227.55" stroke="#1c560c" stroke-width="1.0"/>
<line x1="334.42" y1="227.55" x2="404.52" y2="227.55" stroke="#1a1a1a" stroke-width="1.0"/>
<line x1="320.4" y1="231.07" x2="334.42" y2="231.07" stroke="#0f1b3e" stroke-width="1.0"/>
<line x1="334.42" y1="231.07" x2="348.44" y2="231.07" stroke="#133a08" stroke-width="1.0"/>
<line x1="348.44" y1="231.07" x2="404.52" y2="231.07" stroke="#1a1a1a" stroke-width="1.0"/>
<line x1="320.4" y1="234.59" x2="334.42" y2="234.59" stroke="#133a08" stroke-width="1.0"/>
<line x1="334.42" y1="234.59" x2="348.44" y2="234.59" stroke="#1c560c" stroke-width="1.0"/>
<line x1="348.44" y1="234.59" x2="404.52" y2="234.59" stroke="#1a1a1a" stroke-width="1.0"/>
<line x1="320.4" y1="238.1" x2="334.42" y2="238.1" stroke="#1a1a1a" stroke-width="1.0"/>
<line x1="334.42" y1="238.1" x2="348.44" y2="238.1" stroke="#1c560c" stroke-width="1.0"/>
<line x1="348.44" y1="238.1" x2="404.52" y2="238.1" stroke="#1a1a1a" stroke-width="1.0"/>
<line x1="320.4" y1="241.62" x2="334.42" y2="241.62" stroke="#1a1a1a" stroke-width="1.0"/>
<line x1="334.42" y1="241.62" x2="348.44" y2="241.62" stroke="#1c560c" stroke-width="1.0"/>
<line x1="348.44" y1="241.62" x2="404.52" y2="241.62" stroke="#1a1a1a" stroke-width="1.0"/>
<line x1="320.4" y1="245.14" x2="334.42" y2="245.14" stroke="#1a1a1a" stroke-width="1.0"/>
<line x1="334.42" y1="245.14" x2="362.46" y2="245.14" stroke="#133a08" stroke-width="1.0"/>
<line x1="362.46" y1="245.14" x2="404.52" y2="245.14" stroke="#1a1a1a" stroke-width="1.0"/>
<line x1="320.4" y1="248.65" x2="348.44" y2="248.65" stroke="#1a1a1a" stroke-width="1.0"/>
<line x1="348.44" y1="248.65" x2="362.46" y2="248.65" stroke="#1c560c" stroke-width="1.0"/>
<line x1="362.46" y1="248.65" x2="404.52" y2="248.65" stroke="#1a1a1a" stroke-width="1.0"/>
<line x1="320.4" y1="252.17" x2="348.44" y2="252.17" stroke="#1a1a1a" stroke-width="1.0"/>
<line x1="348.44" y1="252.17" x2="362.46" y2="252.17" stroke="#1c560c" stroke-width="1.0"/>
<line x1="362.46" y1="252.17" x2="404.52" y2="252.17" stroke="#1a1a1a" stroke-width="1.0"/>
<line x1="320.4" y1="255.69" x2="348.44" y2="255.69" stroke="#1a1a1a" stroke-width="1.0"/>
<line x1="348.44" y1="255.69" x2="362.46" y2="255.69" stroke="#133a08" stroke-width="1.0"/>
<line x1="362.46" y1="255.69" x2="376.48" y2="255.69" stroke="#3a000c" stroke-width="1.0"/>
<line x1="376.48" y1="255.69" x2="404.52" y2="255.69" stroke="#1a1a1a" stroke-width="1.0"/>
<line x1="320.4" y1="259.2" x2="362.46" y2="259.2" stroke="#1a1a1a" stroke-width="1.0"/>
<line x1="362.46" y1="259.2" x2="376.48" y2="259.2" stroke="#5e0014" stroke-width="1.0"/>
<line x1="376.48" y1="259.2" x2="404.52" y2="259.2" stroke="#1a1a1a" stroke-width="1.0"/>
<line x1="320.4" y1="262.72" x2="362.46" y2="262.72" stroke="#1a1a1a" stroke-width="1.0"/>
<line x1="362.46" y1="262.72" x2="376.48" y2="262.72" stroke="#5e0014" stroke-width="1.0"/>
<line x1="376.48" y1="262.72" x2="404.52" y2="262.72" stroke="#1a1a1a" stroke-width="1.0"/>
<line x1="320.4" y1="266.24" x2="362.46" y2="266.24" stroke="#1a1a1a" stroke-width="1.0"/>
<line x1="362.46" y1="266.24" x2="376.48" y2="266.24" stroke="#5e0014" stroke-width="1.0"/>
<line x1="376.48" y1="266.24" x2="390.5" y2="266.24" stroke="#133a08" stroke-width="1.0"/>
<line x1="390.5" y1="266.24" x2="404.52" y2="266.24" stroke="#1a1a1a" stroke-width="1.0"/>
<line x1="320.4" y1="269.75" x2="362.46" y2="269.75" stroke="#1a1a1a" stroke-width="1.0"/>
<line x1="362.46" y1="269.75" x2="376.48" y2="269.75" stroke="#3a000c" stroke-width="1.0"/>
<line x1="376.48" y1="269.75" x2="390.5" y2="269.75" stroke="#1c560c" stroke-width="1.0"/>
<line x1="390.5" y1="269.75" x2="404.52" y2="269.75" stroke="#1a1a1a" stroke-width="1.0"/>
<line x1="320.4" y1="273.27" x2="376.48" y2="273.27" stroke="#1a1a1a" stroke-width="1.0"/>
<line x1="376.48" y1="273.27" x2="404.52" y2="273.27" stroke="#133a08" stroke-width="1.0"/>
<line x1="320.4" y1="276.79" x2="390.5" y2="276.79" stroke="#1a1a1a" stroke-width="1.0"/>
<line x1="390.5" y1="276.79" x2="404.52" y2="276.79" stroke="#1c560c" stroke-width="1.0"/>
<line x1="320.4" y1="280.31" x2="390.5" y2="280.31" stroke="#1a1a1a" stroke-width="1.0"/>
<line x1="390.5" y1="280.31" x2="404.52" y2="280.31" stroke="#0b1430" stroke-width="1.0"/>
<line x1="320.4" y1="283.82" x2="404.52" y2="283.82" stroke="#1a1a1a" stroke-width="1.0"/>
<line x1="320.4" y1="287.34" x2="404.52" y2="287.34" stroke="#1a1a1a" stroke-width="1.0"/>
<line x1="320.4" y1="290.86" x2="404.52" y2="290.86" stroke="#1a1a1a" stroke-width="1.0"/>
<line x1="320.4" y1="294.37" x2="404.52" y2="294.37" stroke="#1a1a1a" stroke-width="1.0"/>
<line x1="320.4" y1="297.89" x2="404.52" y2="297.89" stroke="#1a1a1a" stroke-width="1.0"/>
<line x1="320.4" y1="301.41" x2="404.52" y2="301.41" stroke="#1a1a1a" stroke-width="1.0"/>
<line x1="320.4" y1="304.93" x2="404.52" y2="304.93" stroke="#1a1a1a" stroke-width="1.0"/>
<line x1="320.4" y1="308.44" x2="404.52" y2="308.44" stroke="#1a1a1a" stroke-width="1.0"/>
<line x1="320.4" y1="311.96" x2="404.52" y2="311.96" stroke="#1a1a1a" stroke-width="1.0"/>
<line x1="320.4" y1="315.48" x2="404.52" y2="315.48" stroke="#1a1a1a" stroke-width="1.0"/>
<line x1="320.4" y1="318.99" x2="404.52" y2="318.99" stroke="#1a1a1a" stroke-width="1.0"/>
<line x1="320.4" y1="322.51" x2="404.52" y2="322.51" stroke="#1a1a1a" stroke-width="1.0"/>
<line x1="320.4" y1="326.03" x2="404.52" y2="326.03" stroke="#1a1a1a" stroke-width="1.0"/>
<line x1="320.4" y1="329.54" x2="404.52" y2="329.54" stroke="#1a1a1a" stroke-width="1.0"/>
<line x1="320.4" y1="333.06" x2="404.52" y2="333.06" stroke="#1a1a1a" stroke-width="1.0"/>
<line x1="320.4" y1="336.58" x2="404.52" y2="336.58" stroke="#1a1a1a" stroke-width="1.0"/>
<line x1="320.4" y1="340.1" x2="404.52" y2="340.1" stroke="#1a1a1a" stroke-width="1.0"/>
<line x1="320.4" y1="217" x2="320.4" y2="340.1" stroke="#1a1a1a" stroke-width="1.2"/>
<line x1="334.42" y1="217" x2="334.42" y2="340.1" stroke="#1a1a1a" stroke-width="1.2"/>
<line x1="348.44" y1="217" x2="348.44" y2="340.1" stroke="#1a1a1a" stroke-width="1.2"/>
<line x1="362.46" y1="217" x2="362.46" y2="340.1" stroke="#1a1a1a" stroke-width="1.2"/>
<line x1="376.48" y1="217" x2="376.48" y2="340.1" stroke="#1a1a1a" stroke-width="1.2"/>
<line x1="390.5" y1="217" x2="390.5" y2="340.1" stroke="#1a1a1a" stroke-width="1.2"/>
<line x1="404.52" y1="217" x2="404.52" y2="340.1" stroke="#1a1a1a" stroke-width="1.2"/>
<rect x="324.9" y="198.15" width="8.2" height="18.85" fill="#b2002c" stroke="#7a0820" stroke-width="0.8"/>
<rect x="338.36" y="202" width="8.2" height="15" fill="#b2002c" stroke="#7a0820" stroke-width="0.8"/>
<rect x="351.82" y="205.85" width="8.2" height="11.15" fill="#b2002c" stroke="#7a0820" stroke-width="0.8"/>
<rect x="365.28" y="202" width="8.2" height="15" fill="#b2002c" stroke="#7a0820" stroke-width="0.8"/>
<rect x="378.74" y="209.7" width="8.2" height="7.3" fill="#b2002c" stroke="#7a0820" stroke-width="0.8"/>
<rect x="392.2" y="209.7" width="8.2" height="7.3" fill="#b2002c" stroke="#7a0820" stroke-width="0.8"/>
<text stroke="#333" stroke-width="0.22" transform="translate(329.1,342.6) rotate(-90)" font-size="6.45" font-style="italic" text-anchor="end" fill="#333">TNFAIP3</text>
<text stroke="#333" stroke-width="0.22" transform="translate(344.8,342.6) rotate(-90)" font-size="6.45" font-style="italic" text-anchor="end" fill="#333">BCL10</text>
<text stroke="#333" stroke-width="0.22" transform="translate(359.4,342.6) rotate(-90)" font-size="6.45" font-style="italic" text-anchor="end" fill="#333">CARD11</text>
<text stroke="#333" stroke-width="0.22" transform="translate(373,342.6) rotate(-90)" font-size="6.45" font-style="italic" text-anchor="end" fill="#333">REL</text>
<text stroke="#333" stroke-width="0.22" transform="translate(386.6,342.6) rotate(-90)" font-size="6.45" font-style="italic" text-anchor="end" fill="#333">BIRC3</text>
<text stroke="#333" stroke-width="0.22" transform="translate(399.1,342.6) rotate(-90)" font-size="6.45" font-style="italic" text-anchor="end" fill="#333">TRAF3</text>
<rect x="414.7" y="217" width="98.28" height="123.1" fill="#fff"/>
<rect x="414.7" y="217" width="14.04" height="3.52" fill="#68ac47"/>
<rect x="414.7" y="220.52" width="14.04" height="3.52" fill="#68ac47"/>
<rect x="414.7" y="224.03" width="14.04" height="3.52" fill="#68ac47"/>
<rect x="414.7" y="227.55" width="14.04" height="3.52" fill="#68ac47"/>
<rect x="414.7" y="231.07" width="14.04" height="3.52" fill="#68ac47"/>
<rect x="414.7" y="234.59" width="14.04" height="3.52" fill="#68ac47"/>
<rect x="414.7" y="238.1" width="14.04" height="3.52" fill="#68ac47"/>
<rect x="428.74" y="238.1" width="14.04" height="3.52" fill="#68ac47"/>
<rect x="442.78" y="238.1" width="14.04" height="3.52" fill="#68ac47"/>
<rect x="442.78" y="241.62" width="14.04" height="3.52" fill="#68ac47"/>
<rect x="442.78" y="245.14" width="14.04" height="3.52" fill="#68ac47"/>
<rect x="442.78" y="248.65" width="14.04" height="3.52" fill="#68ac47"/>
<rect x="456.82" y="252.17" width="14.04" height="3.52" fill="#68ac47"/>
<rect x="456.82" y="255.69" width="14.04" height="3.52" fill="#68ac47"/>
<rect x="470.86" y="259.2" width="14.04" height="3.52" fill="#68ac47"/>
<rect x="484.9" y="259.2" width="14.04" height="3.52" fill="#68ac47"/>
<rect x="498.94" y="262.72" width="14.04" height="3.52" fill="#68ac47"/>
<line x1="414.7" y1="217" x2="428.74" y2="217" stroke="#133a08" stroke-width="1.0"/>
<line x1="428.74" y1="217" x2="512.98" y2="217" stroke="#1a1a1a" stroke-width="1.0"/>
<line x1="414.7" y1="220.52" x2="428.74" y2="220.52" stroke="#1c560c" stroke-width="1.0"/>
<line x1="428.74" y1="220.52" x2="512.98" y2="220.52" stroke="#1a1a1a" stroke-width="1.0"/>
<line x1="414.7" y1="224.03" x2="428.74" y2="224.03" stroke="#1c560c" stroke-width="1.0"/>
<line x1="428.74" y1="224.03" x2="512.98" y2="224.03" stroke="#1a1a1a" stroke-width="1.0"/>
<line x1="414.7" y1="227.55" x2="428.74" y2="227.55" stroke="#1c560c" stroke-width="1.0"/>
<line x1="428.74" y1="227.55" x2="512.98" y2="227.55" stroke="#1a1a1a" stroke-width="1.0"/>
<line x1="414.7" y1="231.07" x2="428.74" y2="231.07" stroke="#1c560c" stroke-width="1.0"/>
<line x1="428.74" y1="231.07" x2="512.98" y2="231.07" stroke="#1a1a1a" stroke-width="1.0"/>
<line x1="414.7" y1="234.59" x2="428.74" y2="234.59" stroke="#1c560c" stroke-width="1.0"/>
<line x1="428.74" y1="234.59" x2="512.98" y2="234.59" stroke="#1a1a1a" stroke-width="1.0"/>
<line x1="414.7" y1="238.1" x2="428.74" y2="238.1" stroke="#1c560c" stroke-width="1.0"/>
<line x1="428.74" y1="238.1" x2="456.82" y2="238.1" stroke="#133a08" stroke-width="1.0"/>
<line x1="456.82" y1="238.1" x2="512.98" y2="238.1" stroke="#1a1a1a" stroke-width="1.0"/>
<line x1="414.7" y1="241.62" x2="442.78" y2="241.62" stroke="#133a08" stroke-width="1.0"/>
<line x1="442.78" y1="241.62" x2="456.82" y2="241.62" stroke="#1c560c" stroke-width="1.0"/>
<line x1="456.82" y1="241.62" x2="512.98" y2="241.62" stroke="#1a1a1a" stroke-width="1.0"/>
<line x1="414.7" y1="245.14" x2="442.78" y2="245.14" stroke="#1a1a1a" stroke-width="1.0"/>
<line x1="442.78" y1="245.14" x2="456.82" y2="245.14" stroke="#1c560c" stroke-width="1.0"/>
<line x1="456.82" y1="245.14" x2="512.98" y2="245.14" stroke="#1a1a1a" stroke-width="1.0"/>
<line x1="414.7" y1="248.65" x2="442.78" y2="248.65" stroke="#1a1a1a" stroke-width="1.0"/>
<line x1="442.78" y1="248.65" x2="456.82" y2="248.65" stroke="#1c560c" stroke-width="1.0"/>
<line x1="456.82" y1="248.65" x2="512.98" y2="248.65" stroke="#1a1a1a" stroke-width="1.0"/>
<line x1="414.7" y1="252.17" x2="442.78" y2="252.17" stroke="#1a1a1a" stroke-width="1.0"/>
<line x1="442.78" y1="252.17" x2="470.86" y2="252.17" stroke="#133a08" stroke-width="1.0"/>
<line x1="470.86" y1="252.17" x2="512.98" y2="252.17" stroke="#1a1a1a" stroke-width="1.0"/>
<line x1="414.7" y1="255.69" x2="456.82" y2="255.69" stroke="#1a1a1a" stroke-width="1.0"/>
<line x1="456.82" y1="255.69" x2="470.86" y2="255.69" stroke="#1c560c" stroke-width="1.0"/>
<line x1="470.86" y1="255.69" x2="512.98" y2="255.69" stroke="#1a1a1a" stroke-width="1.0"/>
<line x1="414.7" y1="259.2" x2="456.82" y2="259.2" stroke="#1a1a1a" stroke-width="1.0"/>
<line x1="456.82" y1="259.2" x2="498.94" y2="259.2" stroke="#133a08" stroke-width="1.0"/>
<line x1="498.94" y1="259.2" x2="512.98" y2="259.2" stroke="#1a1a1a" stroke-width="1.0"/>
<line x1="414.7" y1="262.72" x2="470.86" y2="262.72" stroke="#1a1a1a" stroke-width="1.0"/>
<line x1="470.86" y1="262.72" x2="512.98" y2="262.72" stroke="#133a08" stroke-width="1.0"/>
<line x1="414.7" y1="266.24" x2="498.94" y2="266.24" stroke="#1a1a1a" stroke-width="1.0"/>
<line x1="498.94" y1="266.24" x2="512.98" y2="266.24" stroke="#133a08" stroke-width="1.0"/>
<line x1="414.7" y1="269.75" x2="512.98" y2="269.75" stroke="#1a1a1a" stroke-width="1.0"/>
<line x1="414.7" y1="273.27" x2="512.98" y2="273.27" stroke="#1a1a1a" stroke-width="1.0"/>
<line x1="414.7" y1="276.79" x2="512.98" y2="276.79" stroke="#1a1a1a" stroke-width="1.0"/>
<line x1="414.7" y1="280.31" x2="512.98" y2="280.31" stroke="#1a1a1a" stroke-width="1.0"/>
<line x1="414.7" y1="283.82" x2="512.98" y2="283.82" stroke="#1a1a1a" stroke-width="1.0"/>
<line x1="414.7" y1="287.34" x2="512.98" y2="287.34" stroke="#1a1a1a" stroke-width="1.0"/>
<line x1="414.7" y1="290.86" x2="512.98" y2="290.86" stroke="#1a1a1a" stroke-width="1.0"/>
<line x1="414.7" y1="294.37" x2="512.98" y2="294.37" stroke="#1a1a1a" stroke-width="1.0"/>
<line x1="414.7" y1="297.89" x2="512.98" y2="297.89" stroke="#1a1a1a" stroke-width="1.0"/>
<line x1="414.7" y1="301.41" x2="512.98" y2="301.41" stroke="#1a1a1a" stroke-width="1.0"/>
<line x1="414.7" y1="304.93" x2="512.98" y2="304.93" stroke="#1a1a1a" stroke-width="1.0"/>
<line x1="414.7" y1="308.44" x2="512.98" y2="308.44" stroke="#1a1a1a" stroke-width="1.0"/>
<line x1="414.7" y1="311.96" x2="512.98" y2="311.96" stroke="#1a1a1a" stroke-width="1.0"/>
<line x1="414.7" y1="315.48" x2="512.98" y2="315.48" stroke="#1a1a1a" stroke-width="1.0"/>
<line x1="414.7" y1="318.99" x2="512.98" y2="318.99" stroke="#1a1a1a" stroke-width="1.0"/>
<line x1="414.7" y1="322.51" x2="512.98" y2="322.51" stroke="#1a1a1a" stroke-width="1.0"/>
<line x1="414.7" y1="326.03" x2="512.98" y2="326.03" stroke="#1a1a1a" stroke-width="1.0"/>
<line x1="414.7" y1="329.54" x2="512.98" y2="329.54" stroke="#1a1a1a" stroke-width="1.0"/>
<line x1="414.7" y1="333.06" x2="512.98" y2="333.06" stroke="#1a1a1a" stroke-width="1.0"/>
<line x1="414.7" y1="336.58" x2="512.98" y2="336.58" stroke="#1a1a1a" stroke-width="1.0"/>
<line x1="414.7" y1="340.1" x2="512.98" y2="340.1" stroke="#1a1a1a" stroke-width="1.0"/>
<line x1="414.7" y1="217" x2="414.7" y2="340.1" stroke="#1a1a1a" stroke-width="1.2"/>
<line x1="428.74" y1="217" x2="428.74" y2="340.1" stroke="#1a1a1a" stroke-width="1.2"/>
<line x1="442.78" y1="217" x2="442.78" y2="340.1" stroke="#1a1a1a" stroke-width="1.2"/>
<line x1="456.82" y1="217" x2="456.82" y2="340.1" stroke="#1a1a1a" stroke-width="1.2"/>
<line x1="470.86" y1="217" x2="470.86" y2="340.1" stroke="#1a1a1a" stroke-width="1.2"/>
<line x1="484.9" y1="217" x2="484.9" y2="340.1" stroke="#1a1a1a" stroke-width="1.2"/>
<line x1="498.94" y1="217" x2="498.94" y2="340.1" stroke="#1a1a1a" stroke-width="1.2"/>
<line x1="512.98" y1="217" x2="512.98" y2="340.1" stroke="#1a1a1a" stroke-width="1.2"/>
<rect x="419.4" y="190.45" width="8.2" height="26.55" fill="#b2002c" stroke="#7a0820" stroke-width="0.8"/>
<rect x="432.9" y="213.55" width="8.2" height="3.45" fill="#b2002c" stroke="#7a0820" stroke-width="0.8"/>
<rect x="446.4" y="202" width="8.2" height="15" fill="#b2002c" stroke="#7a0820" stroke-width="0.8"/>
<rect x="459.9" y="209.7" width="8.2" height="7.3" fill="#b2002c" stroke="#7a0820" stroke-width="0.8"/>
<rect x="473.4" y="213.55" width="8.2" height="3.45" fill="#b2002c" stroke="#7a0820" stroke-width="0.8"/>
<rect x="486.9" y="213.55" width="8.2" height="3.45" fill="#b2002c" stroke="#7a0820" stroke-width="0.8"/>
<rect x="500.4" y="213.55" width="8.2" height="3.45" fill="#b2002c" stroke="#7a0820" stroke-width="0.8"/>
<text stroke="#333" stroke-width="0.22" transform="translate(423.92,342.6) rotate(-90)" font-size="6.45" font-style="italic" text-anchor="end" fill="#333">NOTCH2</text>
<text stroke="#333" stroke-width="0.22" transform="translate(437.96,342.6) rotate(-90)" font-size="6.45" font-style="italic" text-anchor="end" fill="#333">FBXW7</text>
<text stroke="#333" stroke-width="0.22" transform="translate(452,342.6) rotate(-90)" font-size="6.45" font-style="italic" text-anchor="end" fill="#333">SPEN</text>
<text stroke="#333" stroke-width="0.22" transform="translate(466.04,342.6) rotate(-90)" font-size="6.45" font-style="italic" text-anchor="end" fill="#333">RBPJL</text>
<text stroke="#333" stroke-width="0.22" transform="translate(480.08,342.6) rotate(-90)" font-size="6.45" font-style="italic" text-anchor="end" fill="#333">DTX1</text>
<text stroke="#333" stroke-width="0.22" transform="translate(494.12,342.6) rotate(-90)" font-size="6.45" font-style="italic" text-anchor="end" fill="#333">ITCH</text>
<text stroke="#333" stroke-width="0.22" transform="translate(508.16,342.6) rotate(-90)" font-size="6.45" font-style="italic" text-anchor="end" fill="#333">MAML2</text>
<path d="M42.8,166.2 L42.8,162.4 Q42.8,160.8 44.4,160.8 L305.6,160.8 Q307.2,160.8 307.2,162.4 L307.2,166.2" fill="none" stroke="#111" stroke-width="1.2"/>
<line x1="175" y1="155.2" x2="175" y2="160.8" stroke="#111" stroke-width="1.3"/>
<path d="M318.8,166.2 L318.8,162.4 Q318.8,160.8 320.4,160.8 L402.4,160.8 Q404,160.8 404,162.4 L404,166.2" fill="none" stroke="#111" stroke-width="1.2"/>
<line x1="361" y1="155.2" x2="361" y2="160.8" stroke="#111" stroke-width="1.3"/>
<path d="M419.8,166.2 L419.8,162.4 Q419.8,160.8 421.4,160.8 L510.9,160.8 Q512.5,160.8 512.5,162.4 L512.5,166.2" fill="none" stroke="#111" stroke-width="1.2"/>
<line x1="465.9" y1="155.2" x2="465.9" y2="160.8" stroke="#111" stroke-width="1.3"/>
<text stroke="#111" stroke-width="0.28" x="174" y="141.3" font-size="9" text-anchor="middle" fill="#111">Chromatin remodeling and</text>
<text stroke="#111" stroke-width="0.28" x="175" y="151.3" font-size="9" text-anchor="middle" fill="#111">transcriptional regulation</text>
<text stroke="#111" stroke-width="0.28" x="361.3" y="150.9" font-size="9" text-anchor="middle" fill="#111">NF-kB pathway</text>
<text stroke="#111" stroke-width="0.28" x="466.1" y="150.9" font-size="9" text-anchor="middle" fill="#111">NOTCH pathway</text>
<text stroke="#111" stroke-width="0.28" x="174.7" y="182.5" font-size="8.4" font-weight="bold" text-anchor="middle" fill="#111">25/35</text>
<text stroke="#111" stroke-width="0.28" x="174.7" y="193.4" font-size="8.4" font-weight="bold" text-anchor="middle" fill="#111">(71%)</text>
<text stroke="#111" stroke-width="0.28" x="361.8" y="182.5" font-size="8.4" font-weight="bold" text-anchor="middle" fill="#111">18/35</text>
<text stroke="#111" stroke-width="0.28" x="361.8" y="193.4" font-size="8.4" font-weight="bold" text-anchor="middle" fill="#111">(51%)</text>
<text stroke="#111" stroke-width="0.28" x="466.4" y="182.5" font-size="8.4" font-weight="bold" text-anchor="middle" fill="#111">14/35</text>
<text stroke="#111" stroke-width="0.28" x="466.4" y="193.4" font-size="8.4" font-weight="bold" text-anchor="middle" fill="#111">(40%)</text>
<rect x="229.3" y="387.2" width="6" height="5.8" fill="#68ac47"/>
<text stroke="#222" stroke-width="0.12" x="238.7" y="392" font-size="5.7" fill="#222">Mutation</text>
<rect x="269.6" y="387.2" width="6" height="5.8" fill="#2a457c"/>
<text stroke="#222" stroke-width="0.12" x="278.5" y="392" font-size="5.7" fill="#222">Loss</text>
<rect x="300.0" y="387.2" width="6" height="5.8" fill="#b2002c"/>
<text stroke="#222" stroke-width="0.12" x="308.7" y="392" font-size="5.7" fill="#222">Gain</text>
<rect x="0.5" y="0.5" width="519" height="400" fill="none" stroke="#000" stroke-width="1.1"/>
</svg>
</body></html>
